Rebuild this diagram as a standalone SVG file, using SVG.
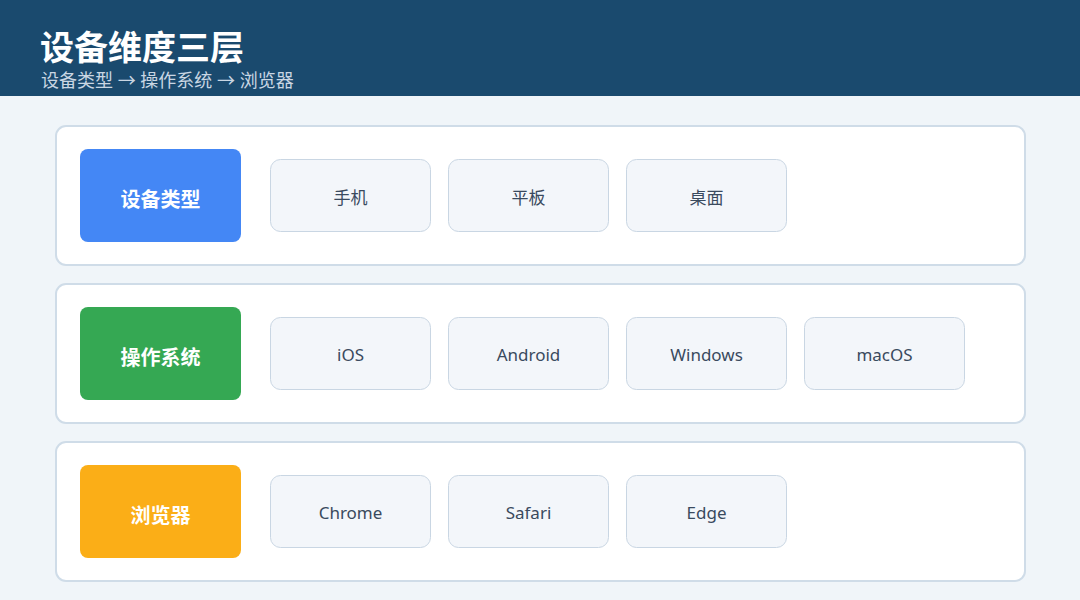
<svg xmlns="http://www.w3.org/2000/svg" width="1080" height="600" viewBox="0 0 1080 600">
<style>
text{font-family:"Noto Sans","Noto Sans CJK SC",sans-serif}
.panel{fill:#ffffff;stroke:#cfdce8;stroke-width:2}
.cat{stroke:none}
.catt{fill:#ffffff;font-size:20px;font-weight:700;text-anchor:middle}
.item{fill:#f3f6fa;stroke:#c9d6e3;stroke-width:1}
.itemt{fill:#3a4a5e;font-size:17px;text-anchor:middle}
</style>
<rect x="0" y="0" width="1080" height="600" fill="#f0f5f9"/>
<g id="header">
<rect x="0" y="0" width="1080" height="96" fill="#1a4a6e"/>
<text x="40" y="60" font-size="34" font-weight="700" fill="#ffffff">设备维度三层</text>
<text x="41" y="87" font-size="18" fill="#c9d6e3">设备类型 → 操作系统 → 浏览器</text>
</g>
<g id="connectors"></g>
<g id="row-device">
<rect class="panel" x="56" y="126" width="969" height="139" rx="10"/>
<g id="cat-device"><rect class="cat" x="80" y="149" width="161" height="93" rx="8" fill="#4487f5"/><text class="catt" x="160.5" y="207">设备类型</text></g>
<g id="item-phone"><rect class="item" x="270.5" y="159.5" width="160" height="72" rx="10"/><text class="itemt" x="350.5" y="204">手机</text></g>
<g id="item-tablet"><rect class="item" x="448.5" y="159.5" width="160" height="72" rx="10"/><text class="itemt" x="528.5" y="204">平板</text></g>
<g id="item-desktop"><rect class="item" x="626.5" y="159.5" width="160" height="72" rx="10"/><text class="itemt" x="706.5" y="204">桌面</text></g>
</g>
<g id="row-os">
<rect class="panel" x="56" y="284" width="969" height="139" rx="10"/>
<g id="cat-os"><rect class="cat" x="80" y="307" width="161" height="93" rx="8" fill="#35a853"/><text class="catt" x="160.5" y="365">操作系统</text></g>
<g id="item-ios"><rect class="item" x="270.5" y="317.5" width="160" height="72" rx="10"/><text class="itemt" x="350.5" y="361">iOS</text></g>
<g id="item-android"><rect class="item" x="448.5" y="317.5" width="160" height="72" rx="10"/><text class="itemt" x="528.5" y="361">Android</text></g>
<g id="item-windows"><rect class="item" x="626.5" y="317.5" width="160" height="72" rx="10"/><text class="itemt" x="706.5" y="361">Windows</text></g>
<g id="item-macos"><rect class="item" x="804.5" y="317.5" width="160" height="72" rx="10"/><text class="itemt" x="884.5" y="361">macOS</text></g>
</g>
<g id="row-browser">
<rect class="panel" x="56" y="442" width="969" height="139" rx="10"/>
<g id="cat-browser"><rect class="cat" x="80" y="465" width="161" height="93" rx="8" fill="#fbae17"/><text class="catt" x="160.5" y="523">浏览器</text></g>
<g id="item-chrome"><rect class="item" x="270.5" y="475.5" width="160" height="72" rx="10"/><text class="itemt" x="350.5" y="519">Chrome</text></g>
<g id="item-safari"><rect class="item" x="448.5" y="475.5" width="160" height="72" rx="10"/><text class="itemt" x="528.5" y="519">Safari</text></g>
<g id="item-edge"><rect class="item" x="626.5" y="475.5" width="160" height="72" rx="10"/><text class="itemt" x="706.5" y="519">Edge</text></g>
</g>
</svg>
